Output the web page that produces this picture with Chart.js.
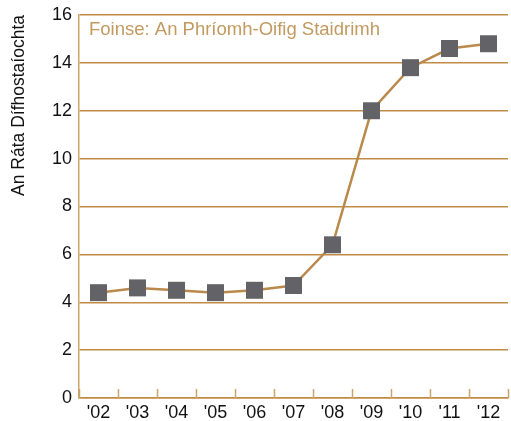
<!DOCTYPE html>
<html>
<head>
<meta charset="utf-8">
<script src="https://cdn.jsdelivr.net/npm/chart.js@4"></script>
<style>
  body { margin: 0; background: #fff; overflow: hidden; }
  canvas { display: block; }
</style>
</head>
<body>
<canvas id="rateChart" width="511" height="421"></canvas>
<script>
const years = ["'02", "'03", "'04", "'05", "'06", "'07", "'08", "'09", "'10", "'11", "'12"];
const rates = [4.4, 4.6, 4.5, 4.4, 4.5, 4.7, 6.4, 12.0, 13.8, 14.6, 14.8];
const yTicks = [0, 2, 4, 6, 8, 10, 12, 14, 16];

const gold = '#c08c45';
const fontFamily = '"Liberation Sans", Arial, sans-serif';

// small ticks pointing up from the x axis, plus the source note
const extras = {
  id: 'extras',
  afterDraw(chart) {
    const ctx = chart.ctx;
    const x = chart.scales.x;
    const area = chart.chartArea;
    ctx.save();
    ctx.strokeStyle = '#c9a56e';
    ctx.lineWidth = 1.5;
    for (let i = 0; i <= years.length; i++) {
      const px = Math.round(x.getPixelForValue(i - 0.5)) + 0.5;
      ctx.beginPath();
      ctx.moveTo(px, area.bottom);
      ctx.lineTo(px, area.bottom - 9);
      ctx.stroke();
    }
    ctx.fillStyle = '#c29a60';
    ctx.font = '18.5px ' + fontFamily;
    ctx.textBaseline = 'alphabetic';
    ctx.fillText('Foinse: An Phríomh-Oifig Staidrimh', area.left + 10, area.top + 20);
    ctx.restore();
  }
};

new Chart(document.getElementById('rateChart'), {
  type: 'line',
  data: {
    labels: years,
    datasets: [{
      data: rates,
      borderColor: '#b98a4c',
      borderWidth: 2.5,
      pointStyle: 'rect',
      pointRadius: 12,
      pointHoverRadius: 12,
      pointBackgroundColor: '#636267',
      pointBorderWidth: 0,
      tension: 0,
      clip: false
    }]
  },
  options: {
    responsive: false,
    animation: false,
    layout: { autoPadding: false, padding: { top: 15, right: 3, left: 0, bottom: 0 } },
    plugins: {
      legend: { display: false },
      tooltip: { enabled: false }
    },
    scales: {
      x: {
        offset: true,
        grid: { display: false, offset: true, drawTicks: false },
        border: { display: true, color: gold, width: 1.5 },
        ticks: {
          color: '#111',
          font: { size: 18, family: fontFamily },
          padding: 4,
          maxRotation: 0,
          autoSkip: false
        },
        afterFit(scale) {
          scale.height = 23;
          scale.paddingLeft = 0;
          scale.paddingRight = 0;
        }
      },
      y: {
        min: 0,
        max: 16,
        afterBuildTicks(scale) { scale.ticks = yTicks.map(v => ({ value: v })); },
        grid: { color: gold, lineWidth: 1.5, drawTicks: false },
        border: { display: true, color: '#c9a56e', width: 1.5 },
        ticks: {
          color: '#111',
          font: { size: 18, family: fontFamily },
          padding: 7
        },
        title: {
          display: true,
          text: 'An Ráta Dífhostaíochta',
          align: 'end',
          color: '#111',
          font: { size: 17.5, family: fontFamily },
          padding: { top: 9, bottom: 10 }
        },
        afterFit(scale) {
          scale.width = 79;
          scale.paddingTop = 0;
          scale.paddingBottom = 0;
        }
      }
    }
  },
  plugins: [extras]
});
</script>
</body>
</html>
